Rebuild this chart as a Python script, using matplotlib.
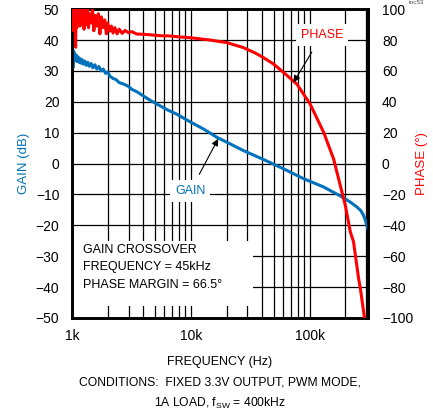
import matplotlib
matplotlib.use("Agg")
import matplotlib.pyplot as plt
from matplotlib.patches import Rectangle
from matplotlib.ticker import FixedLocator, NullFormatter

plt.rcParams['font.family'] = ['Liberation Sans', 'DejaVu Sans']

# gain curve (Hz, dB)
gain_freq = [1000, 1005, 1012, 1020, 1028, 1036, 1045, 1055, 1065, 1080, 1095, 1110,
             1130, 1150, 1170, 1195, 1220, 1250, 1280, 1320, 1360, 1400, 1450, 1500,
             1560, 1620, 1690, 1760, 1835, 1920, 2000, 2100, 2229, 2350, 2500, 2700,
             2980, 3200, 3500, 3990, 4500, 5510, 6500, 7620, 9870, 12770, 16560,
             20100, 27700, 40900, 60300, 88800, 131000, 181000, 220000, 250000,
             270000, 284000, 295000, 308000]
gain_db = [44, 30, 38, 31, 36.5, 33, 36, 34, 35.5, 33.5, 35, 33,
           34.5, 32.8, 34, 32.5, 33.6, 32.2, 33.2, 31.8, 32.8, 31.5, 32.4, 31,
           32, 30.6, 31.4, 30, 30.6, 29.2, 29.6, 28.2, 27.5, 27.2, 26.2, 25.8,
           25, 24, 23.3, 21.9, 20.6, 18.7, 17.2, 16, 13.5, 11.2, 8.5,
           6.9, 4.2, 1.3, -1.7, -4.9, -7.6, -10.5, -12.5, -14.1,
           -15.3, -16.8, -18.5, -21.1]

# phase curve (Hz, degrees)
phase_freq = [1000, 1008, 1016, 1025, 1035, 1045, 1060, 1075, 1085, 1100, 1115, 1130,
              1150, 1170, 1190, 1215, 1240, 1265, 1290, 1320, 1350, 1380, 1410, 1450,
              1490, 1530, 1570, 1620, 1670, 1720, 1770, 1830, 1890, 1950, 2000, 2090,
              2150, 2220, 2300, 2400, 2500, 2650, 2800, 2980, 3200, 3500, 3990, 4500,
              5500, 6690, 8000, 9870, 14500, 20100, 27700, 35000, 40900, 50000,
              60300, 78200, 101000, 131000, 159000, 181000, 199500, 220000, 234000,
              258000, 267000, 288000, 300000]
phase_deg = [100, 90, 101, 86, 99, 92, 101, 75.3, 98, 88, 101, 93,
             101, 89, 100, 91, 101, 87, 99, 90, 101, 88, 97, 91,
             100, 86, 96, 89, 97, 84, 95, 88, 93, 84, 91, 85.8,
             89, 84.5, 88, 84, 87, 84.3, 86.2, 84.8, 85.4, 83.9, 83.7, 83.4,
             82.8, 82.6, 82, 81.5, 80, 78.3, 75.1, 71.5, 68.6, 64.3,
             59, 51.4, 38.5, 20.3, 3, -14.2, -27.1, -44.3, -50.7,
             -74.4, -80.8, -98.9, -110]

gain_ticks = list(range(-50, 51, 10))
phase_ticks = list(range(-100, 101, 20))
freq_ticks = [1e3, 1e4, 1e5]
freq_labels = ['1k', '10k', '100k']

blue = '#0072BC'
red = '#FF0000'

fig = plt.figure(figsize=(4.33, 4.15), dpi=100)
ax = fig.add_axes([0.166, 0.234, 0.684, 0.744])
ax2 = ax.twinx()

ax.set_xscale('log')
ax.set_xlim(1000, 310000)
ax.set_ylim(-50, 50)
ax2.set_ylim(-100, 100)

ax.plot(gain_freq, gain_db, color=blue, lw=2.2, zorder=3)
ax2.plot(phase_freq, phase_deg, color=red, lw=2.2, zorder=3)

ax.xaxis.set_major_locator(FixedLocator(freq_ticks))
ax.set_xticklabels(freq_labels)
minor = [m * d for d in (1e3, 1e4, 1e5) for m in range(2, 10) if m * d < 310000]
ax.xaxis.set_minor_locator(FixedLocator(minor))
ax.xaxis.set_minor_formatter(NullFormatter())
ax.set_yticks(gain_ticks)
ax2.set_yticks(phase_ticks)

ax.grid(True, which='both', color='black', lw=0.9)
ax.set_axisbelow(True)
ax.tick_params(which='both', length=0, labelsize=10)
ax.tick_params(axis='y', pad=9)
ax.tick_params(axis='x', pad=8)
ax2.tick_params(length=0, labelsize=10, pad=10)

for a in (ax, ax2):
    for s in a.spines.values():
        s.set_linewidth(1.9)

ax.set_ylabel('GAIN (dB)', color=blue, fontsize=9.5, labelpad=4)
ax2.set_ylabel('PHASE (°)', color=red, fontsize=9.5, labelpad=2)
ax.set_xlabel('FREQUENCY (Hz)', fontsize=9, labelpad=9)

# white box holding the crossover note (grid below it shows as ticks)
ax.add_patch(Rectangle((1000, -46), 33400 - 1000, 21, facecolor='white',
                       edgecolor='none', zorder=1))
ax.text(1250, -33.6, 'GAIN CROSSOVER\nFREQUENCY = 45kHz\nPHASE MARGIN = 66.5°',
        fontsize=9, va='center', ha='left', linespacing=1.6, zorder=4)

ax2.annotate('GAIN', xy=(17000, 16), xytext=(9900, -18), fontsize=9,
             color=blue, ha='center', va='center',
             bbox=dict(facecolor='white', edgecolor='none', pad=3.5),
             arrowprops=dict(arrowstyle='-|>', color='black', lw=0.8,
                             mutation_scale=10, shrinkA=5, shrinkB=0))
ax2.annotate('PHASE', xy=(73100, 52.5), xytext=(127000, 83), fontsize=9,
             color=red, ha='center', va='center',
             bbox=dict(facecolor='white', edgecolor='none', pad=3.5),
             arrowprops=dict(arrowstyle='-|>', color='black', lw=0.8,
                             mutation_scale=10, shrinkA=5, shrinkB=0))

fig.text(0.508, 0.078, 'CONDITIONS:  FIXED 3.3V OUTPUT, PWM MODE,',
         fontsize=8.7, ha='center', va='center')
fig.text(0.508, 0.027, '1A LOAD, f$_{\\mathregular{SW}}$ = 400kHz',
         fontsize=8.7, ha='center', va='center')
fig.text(0.962, 0.999, 'toc53', fontsize=4.5, ha='center', va='top', color='#444444')

fig.savefig('out.png', dpi=100)
